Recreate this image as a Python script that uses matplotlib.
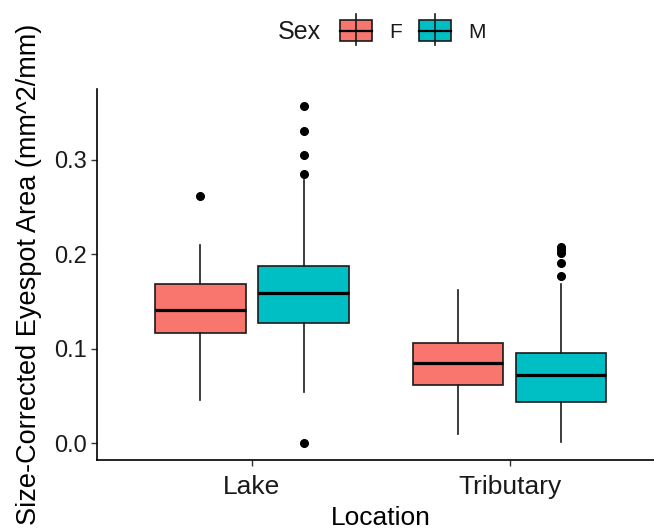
import matplotlib
matplotlib.use("Agg")
import matplotlib.pyplot as plt
from matplotlib.patches import Rectangle
from matplotlib.lines import Line2D

plt.rcParams["font.family"] = ["Liberation Sans", "DejaVu Sans"]

# Data
locations = ["Lake", "Tributary"]
sexes = ["F", "M"]
colors = {"F": "#F8766D", "M": "#00BFC4"}

# [whislo, q1, med, q3, whishi] per location, per sex
stats_F = [[0.046, 0.117, 0.141, 0.169, 0.210],
           [0.010, 0.061, 0.085, 0.106, 0.162]]
stats_M = [[0.054, 0.127, 0.159, 0.188, 0.279],
           [0.001, 0.044, 0.072, 0.095, 0.169]]
fliers_F = [[0.262], []]
fliers_M = [[0.357, 0.330, 0.305, 0.285, 0.0],
            [0.208, 0.205, 0.201, 0.191, 0.177]]

W, H = 654, 531
fig = plt.figure(figsize=(W / 100, H / 100), dpi=100)
ax = fig.add_axes([97.3 / W, 71 / H, 567.2 / W, 371 / H])


def make_stats(s, fl):
    return {"whislo": s[0], "q1": s[1], "med": s[2], "q3": s[3],
            "whishi": s[4], "fliers": fl}


offset = 0.2
for sex, stats, fliers, sign in [("F", stats_F, fliers_F, -1),
                                 ("M", stats_M, fliers_M, 1)]:
    bstats = [make_stats(s, f) for s, f in zip(stats, fliers)]
    pos = [i + 1 + sign * offset for i in range(len(locations))]
    ax.bxp(bstats, positions=pos, widths=0.35, patch_artist=True,
           showcaps=False,
           boxprops=dict(facecolor=colors[sex], edgecolor="#1a1a1a", linewidth=1.2),
           whiskerprops=dict(color="#1a1a1a", linewidth=1.2),
           medianprops=dict(color="black", linewidth=2.3),
           flierprops=dict(marker="o", markerfacecolor="black",
                           markeredgecolor="black", markersize=5.5))

ax.set_xlim(0.4, 2.6)
ax.set_ylim(-0.0179, 0.375)
ax.set_xticks([1, 2])
ax.set_xticklabels(locations)
ax.set_yticks([0.0, 0.1, 0.2, 0.3])
ax.set_yticklabels(["0.0", "0.1", "0.2", "0.3"])

for side in ["top", "right"]:
    ax.spines[side].set_visible(False)
for side in ["left", "bottom"]:
    ax.spines[side].set_linewidth(1.2)
    ax.spines[side].set_color("black")

ax.tick_params(axis="x", length=4, width=1, color="#333333", pad=7,
               labelsize=19, labelcolor="#1a1a1a")
ax.tick_params(axis="y", length=4.5, width=1, color="#333333", pad=3,
               labelsize=17, labelcolor="#1a1a1a")

ax.set_xlabel("Location", fontsize=19, labelpad=5)
ax.set_ylabel("Size-Corrected Eyespot Area (mm^2/mm)", fontsize=19.5)
ax.yaxis.set_label_coords(-0.097, 0.5)


# Legend drawn at the top, ggplot style
def fpx(x, y):
    return x / W, 1 - y / H


fig.text(*fpx(278, 32), "Sex", fontsize=18, ha="left", va="center", color="#1a1a1a")
for sex, x0, tx in [("F", 340, 389), ("M", 419, 468)]:
    xc = x0 + 16
    fig.add_artist(Line2D([xc / W, xc / W], [1 - 14 / H, 1 - 45 / H],
                          transform=fig.transFigure, color="#1a1a1a", lw=1.2))
    fig.add_artist(Rectangle(fpx(x0, 41), 32 / W, 21 / H, transform=fig.transFigure,
                             facecolor=colors[sex], edgecolor="#1a1a1a", lw=1.2))
    fig.add_artist(Line2D([x0 / W, (x0 + 32) / W], [1 - 30.5 / H, 1 - 30.5 / H],
                          transform=fig.transFigure, color="black", lw=1.6))
    fig.text(*fpx(tx, 32), sex, fontsize=15, ha="left", va="center", color="#1a1a1a")

fig.savefig("out.png", dpi=100)
